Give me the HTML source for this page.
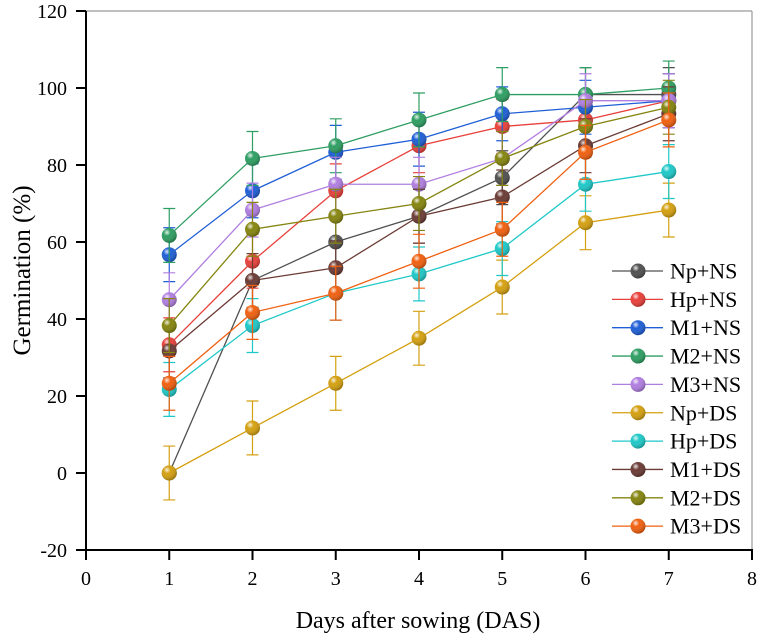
<!DOCTYPE html>
<html><head><meta charset="utf-8"><style>
body{margin:0;background:#fff}
svg, svg text{font-family:"Liberation Serif","Times New Roman",serif !important;fill:#000}
</style></head><body>
<svg id="chart" width="760" height="636" viewBox="0 0 760 636" font-family="Liberation Serif, serif">
<defs>
<radialGradient id="shine" cx="0.35" cy="0.3" r="0.7">
<stop offset="0" stop-color="#fff" stop-opacity="0.85"/>
<stop offset="0.35" stop-color="#fff" stop-opacity="0"/>
<stop offset="1" stop-color="#000" stop-opacity="0.25"/>
</radialGradient>
</defs>
<g id="plot"></g>
</svg>
<script>
const days = [1,2,3,4,5,6,7];
const seriesNames = ["Np+NS","Hp+NS","M1+NS","M2+NS","M3+NS","Np+DS","Hp+DS","M1+DS","M2+DS","M3+DS"];
const seriesColors = ["#505050","#e8403a","#1f5fd6","#2e9e62","#b07ee0","#d4a010","#1ec8c8","#6b3b35","#858510","#f06010"];
const npNS = [0,50,60,66.7,76.7,98.3,98.3];
const hpNS = [33.3,55,73.3,85,90,91.7,96.7];
const m1NS = [56.7,73.3,83.3,86.7,93.3,95,96.7];
const m2NS = [61.7,81.7,85,91.7,98.3,98.3,100];
const m3NS = [45,68.3,75,75,81.7,96.7,96.7];
const npDS = [0,11.7,23.3,35,48.3,65,68.3];
const hpDS = [21.7,38.3,46.7,51.7,58.3,75,78.3];
const m1DS = [31.7,50,53.3,66.7,71.7,85,93.3];
const m2DS = [38.3,63.3,66.7,70,81.7,90,95];
const m3DS = [23.3,41.7,46.7,55,63.3,83.3,91.7];
const errNpNS = [0,7,7,7,7,7,7];
const errHpNS = [7,7,7,7,7,7,7];
const errM1NS = [7,7,7,7,7,7,7];
const errM2NS = [7,7,7,7,7,7,7];
const errM3NS = [7,7,7,7,7,7,7];
const errNpDS = [7,7,7,7,7,7,7];
const errHpDS = [7,7,7,7,7,7,7];
const errM1DS = [7,7,7,7,7,7,7];
const errM2DS = [7,7,7,7,7,7,7];
const errM3DS = [7,7,7,7,7,7,7];
const xTicks = [0,1,2,3,4,5,6,7,8];
const yTicks = [-20,0,20,40,60,80,100,120];

const allSeries = [npNS,hpNS,m1NS,m2NS,m3NS,npDS,hpDS,m1DS,m2DS,m3DS];
const allErr = [errNpNS,errHpNS,errM1NS,errM2NS,errM3NS,errNpDS,errHpDS,errM1DS,errM2DS,errM3DS];
const L=86,R=752,T=11,B=550;
const FONT='"Liberation Serif", serif';
const xs = v => L + (v-0)/(8-0)*(R-L);
const ys = v => B - (v+20)/(140)*(B-T);
const NS="http://www.w3.org/2000/svg";
const g=document.getElementById('plot');
function mk(tag,attrs,parent){const e=document.createElementNS(NS,tag);for(const k in attrs)e.setAttribute(k,attrs[k]);if(tag==='text'){e.setAttribute('font-family','Liberation Serif, serif');e.style.fontFamily=FONT;}(parent||g).appendChild(e);return e;}

let e;
e=mk('line',{x1:L,y1:T,x2:R,y2:T,stroke:'#999','stroke-width':1.2});


e=mk('line',{x1:R,y1:T,x2:R,y2:B,stroke:'#999','stroke-width':1.2});


e=mk('line',{x1:L,y1:B,x2:R+1,y2:B,stroke:'#000','stroke-width':2});


e=mk('line',{x1:L,y1:T,x2:L,y2:B+1,stroke:'#000','stroke-width':2});



xTicks.forEach(t=>{
  const x=xs(t);
  const tk=mk('line',{x1:x,y1:B,x2:x,y2:B+10,stroke:'#000','stroke-width':2});
  
  
  const tx=mk('text',{x:x,y:B+35,'text-anchor':'middle','font-size':20});
  tx.textContent=t;
  
  
});
yTicks.forEach(t=>{
  const y=ys(t);
  const tk=mk('line',{x1:L-10,y1:y,x2:L,y2:y,stroke:'#000','stroke-width':2});
  
  
  const tx=mk('text',{x:67,y:y+7,'text-anchor':'end','font-size':20});
  tx.textContent=t;
  
  
});
e=mk('text',{x:(L+R)/2-1,y:628,'text-anchor':'middle','font-size':24});
e.textContent='Days after sowing (DAS)';


e=mk('text',{x:0,y:0,'text-anchor':'middle','font-size':25,transform:'translate(30,'+((T+B)/2-10)+') rotate(-90)'});
e.textContent='Germination (%)';



function marker(parent,x,y,c){
  const m=mk('circle',{cx:x,cy:y,r:7.5,fill:c},parent);
  
  
  const h=mk('circle',{cx:x,cy:y,r:7.5,fill:'url(#shine)'},parent);
  
  
}

allSeries.forEach((vals,si)=>{
  const c=seriesColors[si];
  const sg=mk('g',{});
  
  
  allErr[si].forEach((er,i)=>{
    if(!er)return;
    const x=xs(days[i]),y1=ys(vals[i]-er),y2=ys(vals[i]+er);
    const eb=mk('path',{d:`M${x},${y1}V${y2}M${x-6},${y1}H${x+6}M${x-6},${y2}H${x+6}`,stroke:c,'stroke-width':1.2,fill:'none'},sg);
    
    
  });
  const ln=mk('polyline',{points:vals.map((v,i)=>xs(days[i])+','+ys(v)).join(' '),fill:'none',stroke:c,'stroke-width':1.3},sg);
  
  
  vals.forEach((v,i)=>marker(sg,xs(days[i]),ys(v),c));
});

const lg=mk('g',{});


seriesNames.forEach((n,i)=>{
  const y=271+i*28.35;
  const c=seriesColors[i];
  const row=mk('g',{},lg);
  
  
  const l=mk('line',{x1:612,y1:y,x2:663,y2:y,stroke:c,'stroke-width':1.3},row);
  
  
  marker(row,638,y,c);
  const t=mk('text',{x:670,y:y+7.5,'font-size':22},row);
  t.textContent=n;
  
  
});
</script>
</body></html>
